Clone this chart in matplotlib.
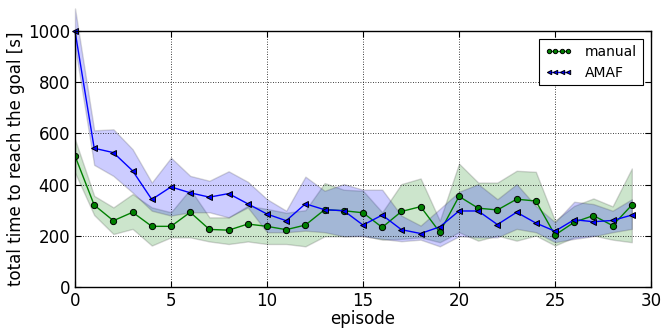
import numpy as np
import matplotlib
matplotlib.use('Agg')
import matplotlib.pyplot as plt

#Data
episode = np.arange(30)

manual = [512, 320, 259, 292, 237, 237, 292, 225, 222, 246,
          237, 224, 242, 302, 298, 290, 233, 295, 314, 214,
          354, 308, 301, 343, 336, 203, 253, 279, 240, 320]
manual_hi = [577, 356, 311, 363, 311, 292, 382, 272, 272, 317,
             305, 290, 300, 406, 380, 376, 292, 402, 424, 259,
             482, 408, 408, 454, 450, 259, 317, 346, 315, 463]
manual_lo = [447, 281, 207, 227, 162, 194, 194, 178, 168, 178,
             168, 168, 159, 198, 198, 201, 185, 188, 194, 175,
             214, 181, 201, 181, 201, 162, 194, 201, 185, 175]

amaf = [1000, 542, 525, 454, 342, 391, 368, 351, 365, 325,
        285, 259, 325, 302, 298, 242, 281, 224, 209, 235,
        297, 297, 244, 292, 250, 218, 263, 255, 260, 281]
amaf_hi = [1088, 612, 616, 538, 408, 505, 434, 415, 452, 411,
           343, 298, 431, 376, 402, 380, 380, 279, 240, 305,
           372, 402, 343, 402, 317, 253, 333, 324, 298, 343]
amaf_lo = [940, 477, 434, 369, 298, 279, 292, 292, 272, 311,
           214, 214, 220, 214, 198, 198, 188, 179, 185, 159,
           198, 194, 194, 227, 214, 175, 188, 198, 214, 227]

fig = plt.figure(figsize=(6.62, 3.31), dpi=100)
ax = fig.add_axes([0.1133, 0.1329, 0.8701, 0.7734])

ax.fill_between(episode, manual_lo, manual_hi, facecolor='green', alpha=0.2,
                edgecolor='0.2', linewidth=1)
ax.fill_between(episode, amaf_lo, amaf_hi, facecolor='blue', alpha=0.2,
                edgecolor='0.2', linewidth=1, clip_on=False)

ax.plot(episode, manual, color='green', marker='o', markersize=4.5,
        markeredgecolor='black', markeredgewidth=0.7, linewidth=1, label='manual')
ax.plot(episode, amaf, color='blue', marker='<', markersize=4.5,
        markerfacecolor='blue', markeredgecolor='black', markeredgewidth=0.7,
        linewidth=1, label='AMAF', clip_on=False)

ax.set_xlim(0, 30)
ax.set_ylim(0, 1000)
ax.set_xticks(range(0, 31, 5))
ax.set_yticks(range(0, 1001, 200))
ax.tick_params(direction='in', labelsize=12, length=4, top=True, right=True)
ax.grid(True, color='black', linestyle=(0, (1, 2)), linewidth=0.6)
for s in ax.spines.values():
    s.set_linewidth(1)

ax.set_xlabel('episode', fontsize=12, labelpad=0)
ax.set_ylabel('total time to reach the goal [s]', fontsize=12, labelpad=2)

leg = ax.legend(loc='upper right', numpoints=4, fontsize=10, fancybox=False,
                framealpha=1, edgecolor='black', handlelength=2.0,
                handletextpad=0.9, borderaxespad=0.6, markerscale=0.7)
leg.get_frame().set_linewidth(0.8)

fig.savefig('out.png', dpi=100)
